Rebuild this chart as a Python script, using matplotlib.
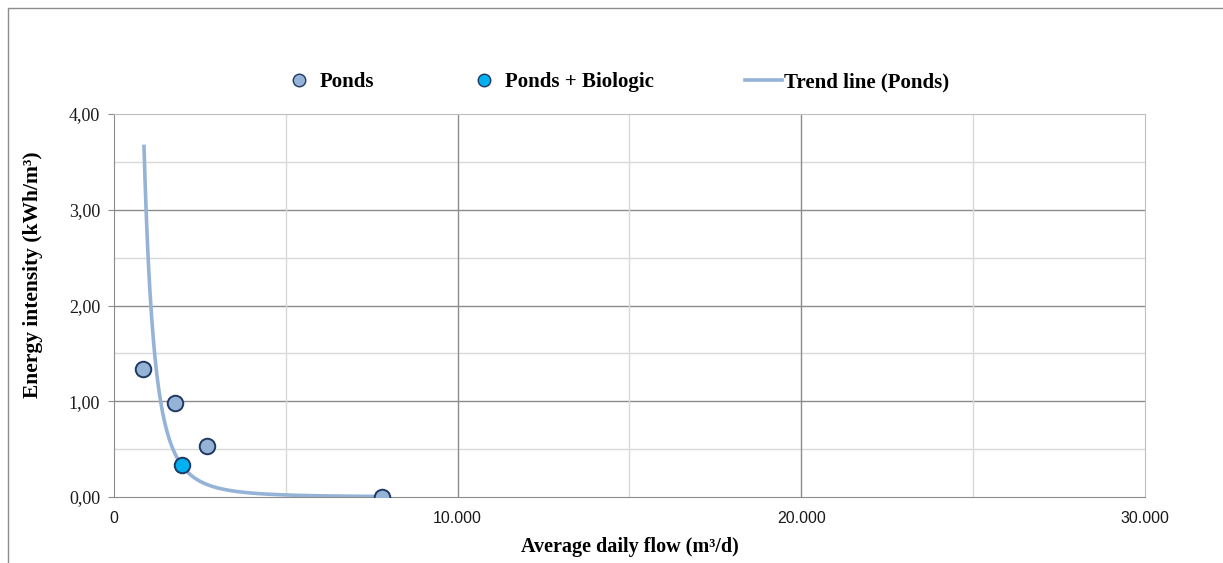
import numpy as np
import matplotlib.pyplot as plt
from matplotlib.lines import Line2D
from matplotlib.patches import Rectangle
from matplotlib.ticker import FuncFormatter

# data
ponds_flow = [844, 1775, 2706, 7798]
ponds_energy = [1.34, 0.98, 0.53, 0.00]
bio_flow = [1979]
bio_energy = [0.33]

# power trend line y = a * x^b, drawn over the ponds range
trend_a = 1.69e9
trend_b = -2.946
trend_start = 873
trend_end = 7798

x_ticks = [0, 10000, 20000, 30000]
y_ticks = [0, 1, 2, 3, 4]

serif = "Liberation Serif"
sans = "Liberation Sans"

fig = plt.figure(figsize=(12.23, 5.63), dpi=100)
ax = fig.add_axes([0.0932, 0.1172, 0.843, 0.6803])

# gridlines: light at the halves, darker at the labelled values
for v in np.arange(0.5, 4.0, 1.0):
    ax.axhline(v, color="#D9D9D9", lw=1, zorder=0)
for v in [1, 2, 3]:
    ax.axhline(v, color="#8C8C8C", lw=1, zorder=0)
for v in [5000, 15000, 25000]:
    ax.axvline(v, color="#D9D9D9", lw=1, zorder=0)
for v in [10000, 20000]:
    ax.axvline(v, color="#8C8C8C", lw=1, zorder=0)

xs = np.linspace(trend_start, trend_end, 400)
ax.plot(xs, trend_a * xs ** trend_b, color="#95B3D7", lw=2.6, zorder=2)

ax.scatter(ponds_flow, ponds_energy, s=125, color="#95B3D7",
           edgecolors="#1F3864", linewidths=1.4, zorder=3)
ax.scatter(bio_flow, bio_energy, s=125, color="#00B0F0",
           edgecolors="#1F3864", linewidths=1.4, zorder=3)

ax.set_xlim(0, 30000)
ax.set_ylim(0, 4)
ax.set_xticks(x_ticks)
ax.set_yticks(y_ticks)
ax.xaxis.set_major_formatter(FuncFormatter(lambda v, p: "0" if v == 0 else f"{int(v):,}".replace(",", ".")))
ax.yaxis.set_major_formatter(FuncFormatter(lambda v, p: f"{v:.2f}".replace(".", ",")))
for lab in ax.get_yticklabels():
    lab.set_fontfamily(serif)
    lab.set_fontsize(13)
for lab in ax.get_xticklabels():
    lab.set_fontfamily(sans)
    lab.set_fontsize(11.5)
ax.tick_params(axis="x", length=0, pad=10, colors="#1a1a1a")
ax.tick_params(axis="y", length=4, color="#8C8C8C", pad=6, colors="#1a1a1a")

for side in ["left", "bottom"]:
    ax.spines[side].set_color("#8C8C8C")
for side in ["top", "right"]:
    ax.spines[side].set_color("#BFBFBF")

ax.set_xlabel("Average daily flow (m³/d)", fontfamily=serif, fontweight="bold",
              fontsize=14.5, labelpad=8)
ax.set_ylabel("Energy intensity (kWh/m³)", fontfamily=serif, fontweight="bold",
              fontsize=15.5)
ax.yaxis.set_label_coords(-0.069, 0.58)

handles = [
    Line2D([], [], ls="", marker="o", ms=9, mfc="#95B3D7", mec="#1F3864", mew=1),
    Line2D([], [], ls="", marker="o", ms=9, mfc="#00B0F0", mec="#1F3864", mew=1),
    Line2D([], [], color="#95B3D7", lw=2.6),
]
fig.legend(handles, ["Ponds", "Ponds + Biologic", "Trend line (Ponds)"],
           loc="center", bbox_to_anchor=(0.503, 0.854), ncol=3, frameon=False,
           columnspacing=4.4, handlelength=1.75, handletextpad=0.12,
           prop={"family": serif, "weight": "bold", "size": 15})

fig.patches.append(Rectangle((0.0065, -0.01), 1.0, 0.996, transform=fig.transFigure,
                             fill=False, edgecolor="#8C8C8C", lw=1))

fig.savefig("out.png", dpi=100)
